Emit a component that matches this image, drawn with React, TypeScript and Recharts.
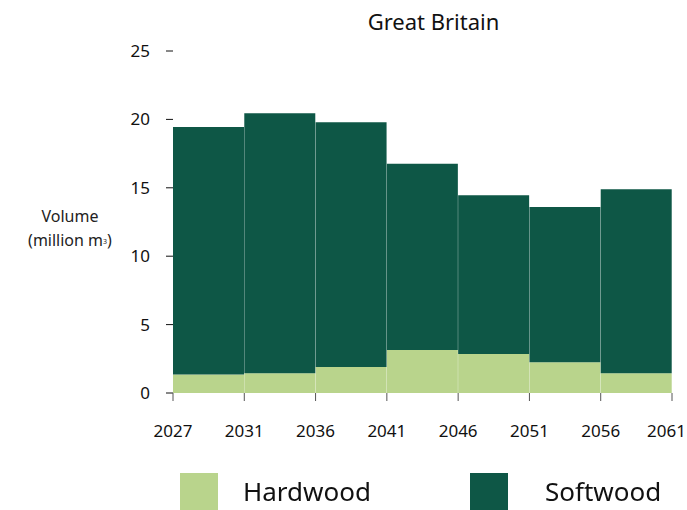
import React from "react";
import { BarChart, Bar, XAxis, YAxis } from "recharts";

// periods between the boundary years
const periods = ["2027-2031", "2031-2036", "2036-2041", "2041-2046", "2046-2051", "2051-2056", "2056-2061"];
const boundaryYears = ["2027", "2031", "2036", "2041", "2046", "2051", "2056", "2061"];
const hardwood = [1.35, 1.45, 1.9, 3.15, 2.85, 2.25, 1.45];
const softwood = [18.1, 19.0, 17.9, 13.6, 11.6, 11.35, 13.45];
const yTicks = [0, 5, 10, 15, 20, 25];

const HARD = "#b9d48c";
const SOFT = "#0e5746";
const FONT = "'Noto Sans', sans-serif";

const W = 687;
const M = { top: 51, right: 15, bottom: 67, left: 0 };
const Y_W = 173;

const data = periods.map((p, i) => ({ period: p, hardwood: hardwood[i], softwood: softwood[i] }));

// each tick sits on the band centre; year labels go on the band edges
const YearTick = (props: any) => {
  const { x, y, payload } = props;
  const half = payload && payload.offset ? payload.offset : (W - Y_W - M.right) / periods.length / 2;
  const i = payload.index;
  const mark = (cx: number, label: string, last = false) => (
    <g key={label}>
      <line x1={cx} x2={cx} y1={y} y2={y + 8} stroke="#555" />
      <text
        x={last ? W - 1 : cx}
        y={y + 44}
        textAnchor={last ? "end" : "middle"}
        fill="#111"
        fontSize={17}
        fontFamily={FONT}
      >
        {label}
      </text>
    </g>
  );
  return (
    <g>
      {mark(x - half, boundaryYears[i])}
      {i === periods.length - 1 && mark(x + half, boundaryYears[i + 1], true)}
    </g>
  );
};

export default function App() {
  return (
    <div style={{ position: "fixed", left: 0, top: 0, width: 687, height: 510, background: "#fff", fontFamily: FONT }}>
      <div style={{ position: "absolute", left: 0, top: 6, width: 687, textAlign: "center", paddingLeft: 180, boxSizing: "border-box", fontSize: 22, color: "#111" }}>
        Great Britain
      </div>
      <div style={{ position: "absolute", left: 4, top: 204, width: 132, textAlign: "center", fontSize: 16, color: "#222", lineHeight: "24px" }}>
        Volume
        <br />
        (million m<span style={{ fontSize: 7, verticalAlign: "2px" }}>3</span>)
      </div>
      <BarChart
        width={W}
        height={510}
        data={data}
        margin={M}
        barCategoryGap={0}
        barGap={0}
      >
        <XAxis
          dataKey="period"
          axisLine={false}
          tickLine={false}
          tickSize={0}
          tickMargin={0}
          tick={<YearTick />}
          interval={0}
          height={50}
        />
        <YAxis
          domain={[0, 25]}
          ticks={yTicks}
          width={Y_W}
          axisLine={false}
          tickSize={7}
          tickMargin={16}
          tickLine={{ stroke: "#111" }}
          tick={{ fill: "#111", fontSize: 17, fontFamily: FONT }}
        />
        <Bar dataKey="hardwood" stackId="a" fill={HARD} isAnimationActive={false} />
        <Bar dataKey="softwood" stackId="a" fill={SOFT} isAnimationActive={false} />
      </BarChart>
      <div style={{ position: "absolute", left: 180, top: 473, width: 38, height: 37, background: HARD }} />
      <div style={{ position: "absolute", left: 243, top: 471, fontSize: 26, color: "#111", lineHeight: "40px" }}>Hardwood</div>
      <div style={{ position: "absolute", left: 470, top: 473, width: 38, height: 37, background: SOFT }} />
      <div style={{ position: "absolute", left: 545, top: 471, fontSize: 26, color: "#111", lineHeight: "40px" }}>Softwood</div>
    </div>
  );
}
